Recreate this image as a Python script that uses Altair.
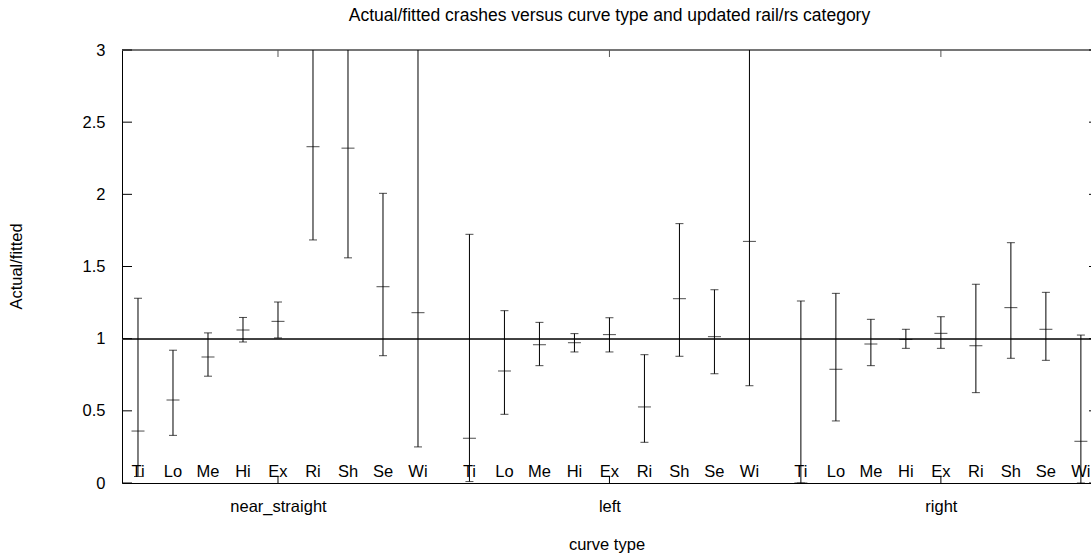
import altair as alt
import pandas as pd

# Curve types (groups) and rail/roadside categories within each group
groups = ["near_straight", "left", "right"]
categories = ["Ti", "Lo", "Me", "Hi", "Ex", "Ri", "Sh", "Se", "Wi"]

# Actual/fitted ratio with lower and upper confidence limits, per curve type
ratio_near = [0.36, 0.575, 0.873, 1.06, 1.12, 2.33, 2.32, 1.36, 1.18]
lower_near = [0.045, 0.33, 0.74, 0.977, 1.005, 1.684, 1.56, 0.882, 0.25]
upper_near = [1.28, 0.92, 1.04, 1.147, 1.254, 3.2, 3.3, 2.007, 3.6]

ratio_left = [0.31, 0.776, 0.958, 0.972, 1.028, 0.527, 1.277, 1.014, 1.674]
lower_left = [0.01, 0.476, 0.813, 0.908, 0.908, 0.282, 0.878, 0.757, 0.674]
upper_left = [1.723, 1.194, 1.113, 1.035, 1.145, 0.889, 1.797, 1.339, 3.6]

ratio_right = [0.0, 0.788, 0.963, 0.995, 1.037, 0.951, 1.215, 1.065, 0.289]
lower_right = [0.0, 0.43, 0.813, 0.933, 0.933, 0.626, 0.864, 0.85, 0.0]
upper_right = [1.261, 1.314, 1.134, 1.065, 1.152, 1.377, 1.665, 1.321, 1.025]

y_ticks = [0, 0.5, 1, 1.5, 2, 2.5, 3]

# Layout of the categorical positions along x
GROUP_STEP = 9.47
X_MIN = -0.457
X_MAX = 27.229
FONT = "Liberation Sans"
FS = 16.5

series = [
    (ratio_near, lower_near, upper_near),
    (ratio_left, lower_left, upper_left),
    (ratio_right, lower_right, upper_right),
]
rows = []
for g, (name, (r, lo, hi)) in enumerate(zip(groups, series)):
    for i, cat in enumerate(categories):
        rows.append({"group": name, "cat": cat, "pos": g * GROUP_STEP + i,
                     "ratio": r[i], "lower": lo[i], "upper": hi[i], "zero": 0})
df = pd.DataFrame(rows)

centers = [g * GROUP_STEP + 4 for g in range(len(groups))]
centers_df = pd.DataFrame({"pos": centers, "group": groups})
yticks_df = pd.DataFrame({"tick": y_ticks})

label_expr = ("datum.value < {a} ? 'near_straight' : datum.value < {b} ? 'left' : 'right'"
              .format(a=centers[0] + 1, b=centers[1] + 1))

x_scale = alt.Scale(domain=[X_MIN, X_MAX], nice=False, zero=False)
y_scale = alt.Scale(domain=[0, 3], nice=False, zero=False)

x_axis = alt.Axis(values=centers, labelExpr=label_expr, ticks=False, grid=False,
                  domainColor="black", domainWidth=1, labelColor="black",
                  labelFont=FONT, labelFontSize=FS, labelPadding=15,
                  title="curve type", titleFont=FONT, titleFontSize=FS,
                  titleFontWeight="normal", titleColor="black",
                  titleY=66, titleBaseline="alphabetic")
y_axis = alt.Axis(values=y_ticks, format="~g", ticks=False, grid=False,
                  domainColor="black", domainWidth=1, labelColor="black",
                  labelFont=FONT, labelFontSize=FS, labelPadding=17,
                  title="Actual/fitted", titleFont=FONT, titleFontSize=FS,
                  titleFontWeight="normal", titleColor="black",
                  titleX=-106, titleY=216, titleBaseline="middle")


def xq(field):
    return alt.X(f"{field}:Q", scale=x_scale, axis=x_axis)


def yq(field):
    return alt.Y(f"{field}:Q", scale=y_scale, axis=y_axis)


base = alt.Chart(df)

# Vertical confidence-interval lines
bars = base.mark_rule(color="black", strokeWidth=1, clip=True).encode(
    x=xq("pos"), y=yq("lower"), y2="upper"
)
# End caps and the central ratio tick
cap_hi = base.mark_tick(orient="horizontal", size=8, thickness=1, color="black",
                        clip=True).encode(x=xq("pos"), y=yq("upper"))
cap_lo = base.mark_tick(orient="horizontal", size=8, thickness=1, color="black",
                        clip=True).encode(x=xq("pos"), y=yq("lower"))
mid = base.mark_tick(orient="horizontal", size=13, thickness=1, color="black",
                     clip=True).encode(x=xq("pos"), y=yq("ratio"))

# Reference line at ratio = 1 and top border
ref_line = alt.Chart(df).mark_rule(color="#444444", strokeWidth=0.9).encode(y=alt.datum(1))
top_border = alt.Chart(df).mark_rule(color="#777777", strokeWidth=1).encode(y=alt.datum(3))

# Category labels drawn just above the x axis
cat_labels = base.mark_text(font=FONT, fontSize=FS, color="black", dy=-6,
                            baseline="alphabetic").encode(
    x=xq("pos"), y=yq("zero"), text="cat:N"
)

# Inward tick marks on the frame
ticks_left = alt.Chart(yticks_df).mark_rule(color="black").encode(
    y=yq("tick"), x=alt.value(0), x2=alt.value(10)
)
ticks_right = alt.Chart(yticks_df).mark_rule(color="black").encode(
    y=yq("tick"), x=alt.value(967), x2=alt.value(969)
)
ticks_bottom = alt.Chart(centers_df).mark_rule(color="black").encode(
    x=xq("pos"), y=alt.datum(0), y2=alt.value(426)
)
ticks_top = alt.Chart(centers_df).mark_rule(color="#555555").encode(
    x=xq("pos"), y=alt.datum(3), y2=alt.value(7)
)

chart = alt.layer(
    ref_line, top_border, bars, cap_hi, cap_lo, mid, cat_labels,
    ticks_left, ticks_right, ticks_bottom, ticks_top,
).properties(
    width=969,
    height=433,
    autosize="none",
    padding={"left": 122, "top": 50, "right": 0, "bottom": 71},
    title=alt.TitleParams(
        "Actual/fitted crashes versus curve type and updated rail/rs category",
        font=FONT, fontSize=17.5, fontWeight="normal", color="black",
        anchor="middle", offset=18, dx=3,
    ),
).configure_view(strokeWidth=0).configure(background="white")

chart.save("out.html", embed_options={"renderer": "svg", "actions": False})
